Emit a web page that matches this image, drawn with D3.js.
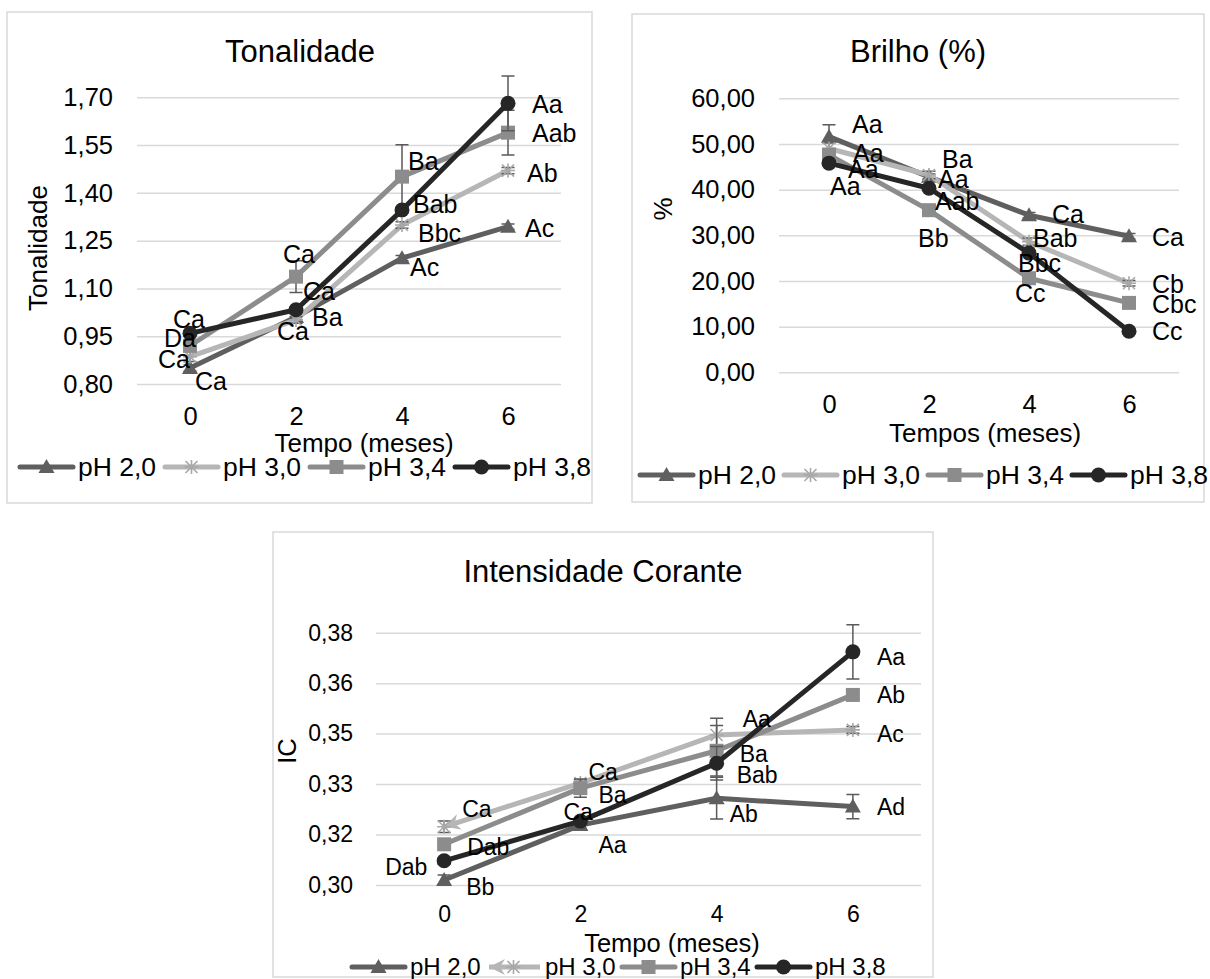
<!DOCTYPE html>
<html><head><meta charset="utf-8">
<script src="https://cdn.jsdelivr.net/npm/d3@7"></script>
<style>
body{margin:0;background:#fff}
svg{display:block}
text{font-family:"Liberation Sans",Arial,Helvetica,sans-serif;fill:#000}
</style>
</head><body>
<svg id="c" width="1210" height="979"></svg>
<script>
// ---------------- DATA ----------------
const months = ["0","2","4","6"];
const seriesNames = ["pH 2,0","pH 3,0","pH 3,4","pH 3,8"];

// Tonalidade
const tonPH20 = [0.850, 1.010, 1.195, 1.294];
const tonPH30 = [0.886, 1.001, 1.299, 1.470];
const tonPH34 = [0.920, 1.137, 1.451, 1.589];
const tonPH38 = [0.959, 1.033, 1.346, 1.681];
const tonErr20 = [0.010, 0.008, 0.008, 0.008];
const tonErr30 = [0.015, 0.010, 0.010, 0.010];
const tonErr34 = [0.010, 0.050, 0.100, 0.070];
const tonErr38 = [0.008, 0.008, 0.008, 0.086];
const tonLbl20 = ["Ca","Ba","Ac","Ac"];
const tonLbl30 = ["Ca","Ca","Bbc","Ab"];
const tonLbl34 = ["Da","Ca","Ba","Aab"];
const tonLbl38 = ["Ca","Ca","Bab","Aa"];
const tonTicks = [0.80, 0.95, 1.10, 1.25, 1.40, 1.55, 1.70];
const tonTickLabels = ["0,80","0,95","1,10","1,25","1,40","1,55","1,70"];

// Brilho (%)
const briPH20 = [51.6, 42.8, 34.4, 29.8];
const briPH30 = [49.0, 43.2, 28.6, 19.5];
const briPH34 = [47.6, 35.5, 20.6, 15.2];
const briPH38 = [45.8, 40.3, 26.1, 9.0];
const briErr20 = [2.6, 0.6, 0.6, 0.6];
const briErr30 = [1.2, 0.8, 0.8, 0.6];
const briErr34 = [0.6, 0.6, 0.6, 0.6];
const briErr38 = [0.5, 0.5, 0.5, 0.5];
const briLbl20 = ["Aa","Ba","Ca","Ca"];
const briLbl30 = ["Aa","Aa","Bab","Cb"];
const briLbl34 = ["Aa","Bb","Cc","Cbc"];
const briLbl38 = ["Aa","Aab","Bbc","Cc"];
const briTicks = [0, 10, 20, 30, 40, 50, 60];
const briTickLabels = ["0,00","10,00","20,00","30,00","40,00","50,00","60,00"];

// Intensidade Corante
const icPH20 = [0.3015, 0.3178, 0.3258, 0.3233];
const icPH30 = [0.3173, 0.3303, 0.3446, 0.3461];
const icPH34 = [0.3121, 0.3288, 0.3399, 0.3565];
const icPH38 = [0.3072, 0.3190, 0.3362, 0.3693];
const icErr20 = [0.0015, 0.0010, 0.0062, 0.0036];
const icErr30 = [0.0017, 0.0010, 0.0050, 0.0010];
const icErr34 = [0.0010, 0.0027, 0.0075, 0.0010];
const icErr38 = [0.0010, 0.0010, 0.0050, 0.0081];
const icLbl20 = ["Bb","Aa","Ab","Ad"];
const icLbl30 = ["Ca","Ca","Aa","Ac"];
const icLbl34 = ["Dab","Ba","Ba","Ab"];
const icLbl38 = ["Dab","Ca","Bab","Aa"];
const icTicks = [0.300, 0.315, 0.330, 0.345, 0.360, 0.375];
const icTickLabels = ["0,30","0,32","0,33","0,35","0,36","0,38"];

// ---------------- STYLE / LAYOUT ----------------
const seriesStyle = [
  {color:"#5f5f5f", marker:"triangle"},
  {color:"#b6b6b6", marker:"star"},
  {color:"#8c8c8c", marker:"square"},
  {color:"#262626", marker:"circle"}
];
// label offsets [dx (text left), dy (baseline)] relative to the data point
const tonLabelOff = [
  [[5,22],[16,9],[8,18],[17,10]],
  [[-32,11],[-19,20],[16,17],[19,11]],
  [[-26,1],[-13,-14],[6,-7],[24,9]],
  [[-17,-5],[7,-10],[11,3],[24,10]]
];
const briLabelOff = [
  [[23,-4],[13,-9],[23,8],[23,10]],
  [[24,13],[9,13],[4,5],[23,10]],
  [[19,23],[-11,37],[-14,24],[23,10]],
  [[1,32],[6,22],[-11,19],[23,9]]
];
const icLabelOff = [
  [[22,15],[18,28],[13,24],[24,8]],
  [[18,-10],[8,-3],[26,-8],[24,12]],
  [[23,11],[18,15],[23,11],[24,8]],
  [[-59,14],[-17,-1],[20,20],[24,13]]
];

const svg = d3.select("#c");
const FONT = '"Liberation Sans",Arial,Helvetica,sans-serif';

// arrow marker for the pH 3,0 line of the IC chart (tip at line start, pointing backward)
svg.append("defs").append("marker")
  .attr("id","arrowStart").attr("markerUnits","userSpaceOnUse")
  .attr("viewBox","-18 -10 20 20").attr("markerWidth",20).attr("markerHeight",20)
  .attr("refX",0).attr("refY",0).attr("orient","auto-start-reverse")
  .style("overflow","visible")
  .append("path").attr("d","M0,0 L-16,-8 L-11,0 L-16,8 Z")
  .attr("fill","#b6b6b6");

function drawMarker(g, type, cx, cy, color){
  if(type==="circle"){
    g.append("circle").attr("cx",cx).attr("cy",cy).attr("r",7.5).attr("fill",color);
  } else if(type==="square"){
    g.append("rect").attr("x",cx-7).attr("y",cy-7).attr("width",14).attr("height",14).attr("fill",color);
  } else if(type==="triangle"){
    g.append("path").attr("d",`M${cx},${cy-8} L${cx+8},${cy+6} L${cx-8},${cy+6} Z`).attr("fill",color);
  } else if(type==="star"){
    g.append("path").attr("d",`M${cx-6},${cy-6}L${cx+6},${cy+6}M${cx-6},${cy+6}L${cx+6},${cy-6}M${cx},${cy-7}L${cx},${cy+7}M${cx-7},${cy}L${cx+7},${cy}`)
      .attr("stroke","#a8a8a8").attr("stroke-width",1.6).attr("fill","none");
  }
}

function drawChart(cfg){
  const g = svg.append("g");
  g.append("rect").attr("x",cfg.panel[0]).attr("y",cfg.panel[1])
    .attr("width",cfg.panel[2]-cfg.panel[0]).attr("height",cfg.panel[3]-cfg.panel[1])
    .attr("fill","#fff").attr("stroke","#d9d9d9").attr("stroke-width",1.5);

  const [x0,x1,yTop,yBot] = cfg.plot;
  const x = d3.scalePoint().domain(months).range([x0,x1]).padding(0.5);
  const y = d3.scaleLinear().domain(cfg.domain).range([yBot,yTop]);

  // gridlines
  const grid = g.append("g").attr("transform",`translate(${x0},0)`)
    .call(d3.axisLeft(y).tickValues(cfg.ticks).tickSize(-(x1-x0)).tickFormat(""));
  grid.select(".domain").remove();
  grid.selectAll("line").attr("stroke","#d9d9d9").attr("stroke-width",1.5);

  // y tick labels
  const ya = g.append("g").attr("transform",`translate(${x0},0)`)
    .call(d3.axisLeft(y).tickValues(cfg.ticks).tickSize(0).tickPadding(cfg.yPad)
      .tickFormat((d,i)=>cfg.tickLabels[i]));
  ya.select(".domain").remove();
  ya.attr("font-family",FONT).attr("font-size",cfg.tickFs);
  ya.selectAll("text").attr("fill","#000");

  // x tick labels
  const xa = g.append("g").attr("transform",`translate(0,${yBot})`)
    .call(d3.axisBottom(x).tickSize(0).tickPadding(cfg.xPad));
  xa.select(".domain").remove();
  xa.attr("font-family",FONT).attr("font-size",cfg.tickFs);
  xa.selectAll("text").attr("fill","#000");

  // title
  g.append("text").attr("x",cfg.title[1]).attr("y",cfg.title[2]).attr("text-anchor","middle")
    .attr("font-size",31).text(cfg.title[0]);
  // x axis title
  g.append("text").attr("x",cfg.xTitle[1]).attr("y",cfg.xTitle[2]).attr("text-anchor","middle")
    .attr("font-size",cfg.axisFs).text(cfg.xTitle[0]);
  // y axis title
  g.append("text").attr("transform",`translate(${cfg.yTitle[1]},${cfg.yTitle[2]}) rotate(-90)`)
    .attr("text-anchor","middle").attr("font-size",cfg.axisFs).text(cfg.yTitle[0]);

  const line = d3.line().x((v,i)=>x(months[i])).y(v=>y(v));

  cfg.series.forEach((vals,si)=>{
    const st = seriesStyle[si];
    const p = g.append("path").datum(vals).attr("d",line).attr("fill","none")
      .attr("stroke",st.color).attr("stroke-width",5)
      .attr("stroke-linejoin","round").attr("stroke-linecap","round");
    if(cfg.arrowSeries===si){ p.attr("stroke-linecap","butt").attr("marker-start","url(#arrowStart)"); }
    // error bars
    vals.forEach((v,i)=>{
      const e = cfg.errors[si][i];
      const cx = x(months[i]);
      const ya1 = y(v+e), ya2 = y(v-e);
      g.append("path").attr("d",`M${cx},${ya1}L${cx},${ya2}M${cx-6.5},${ya1}L${cx+6.5},${ya1}M${cx-6.5},${ya2}L${cx+6.5},${ya2}`)
        .attr("stroke","#5a5a5a").attr("stroke-width",1.5).attr("fill","none");
    });
    vals.forEach((v,i)=> drawMarker(g, st.marker, x(months[i]), y(v), st.color));
  });

  // data labels
  cfg.series.forEach((vals,si)=>{
    vals.forEach((v,i)=>{
      const off = cfg.labelOff[si][i];
      g.append("text").attr("x",x(months[i])+off[0]).attr("y",y(v)+off[1])
        .attr("font-size",cfg.labelFs).text(cfg.labels[si][i]);
    });
  });

  // legend
  seriesNames.forEach((name,si)=>{
    const st = seriesStyle[si];
    const lx = cfg.legend[0] + si*cfg.legend[2];
    const ly = cfg.legend[1];
    const lg = g.append("path").attr("d",`M${lx},${ly}L${lx+53},${ly}`)
      .attr("stroke",st.color).attr("stroke-width",5).attr("stroke-linecap","round");
    if(cfg.arrowSeries===si){ lg.attr("stroke-linecap","butt").attr("d",`M${lx+2},${ly}L${lx+53},${ly}`).attr("marker-start","url(#arrowStart)"); }
    drawMarker(g, st.marker, lx+26.5, ly, st.color);
    g.append("text").attr("x",lx+58).attr("y",ly).attr("dy","0.35em")
      .attr("font-size",cfg.legendFs).text(name);
  });
}

drawChart({
  panel:[7,12,592,503],
  plot:[137,561,97.3,384],
  domain:[0.80,1.70],
  ticks:tonTicks, tickLabels:tonTickLabels,
  yPad:24, xPad:23, tickFs:25.5, axisFs:26, labelFs:25, legendFs:26.5,
  title:["Tonalidade",300,62],
  xTitle:["Tempo (meses)",364,452],
  yTitle:["Tonalidade",47,248],
  series:[tonPH20,tonPH30,tonPH34,tonPH38],
  errors:[tonErr20,tonErr30,tonErr34,tonErr38],
  labels:[tonLbl20,tonLbl30,tonLbl34,tonLbl38],
  labelOff:tonLabelOff,
  legend:[20,467,145],
  arrowSeries:-1
});

drawChart({
  panel:[632,14,1204,502],
  plot:[779,1179,98.3,372.3],
  domain:[0,60],
  ticks:briTicks, tickLabels:briTickLabels,
  yPad:24, xPad:22.6, tickFs:25.5, axisFs:26, labelFs:25, legendFs:26.5,
  title:["Brilho (%)",918,62],
  xTitle:["Tempos (meses)",985,442],
  yTitle:["%",672,209],
  series:[briPH20,briPH30,briPH34,briPH38],
  errors:[briErr20,briErr30,briErr34,briErr38],
  labels:[briLbl20,briLbl30,briLbl34,briLbl38],
  labelOff:briLabelOff,
  legend:[640,475,144],
  arrowSeries:-1
});

drawChart({
  panel:[273,532,933,977],
  plot:[376,921,632.7,885],
  domain:[0.300,0.375],
  ticks:icTicks, tickLabels:icTickLabels,
  yPad:23, xPad:20.7, tickFs:23, axisFs:25.5, labelFs:23, legendFs:24,
  title:["Intensidade Corante",603,582],
  xTitle:["Tempo (meses)",672,952],
  yTitle:["IC",296,751],
  series:[icPH20,icPH30,icPH34,icPH38],
  errors:[icErr20,icErr30,icErr34,icErr38],
  labels:[icLbl20,icLbl30,icLbl34,icLbl38],
  labelOff:icLabelOff,
  legend:[352,967,135],
  arrowSeries:1
});
</script>
</body></html>
